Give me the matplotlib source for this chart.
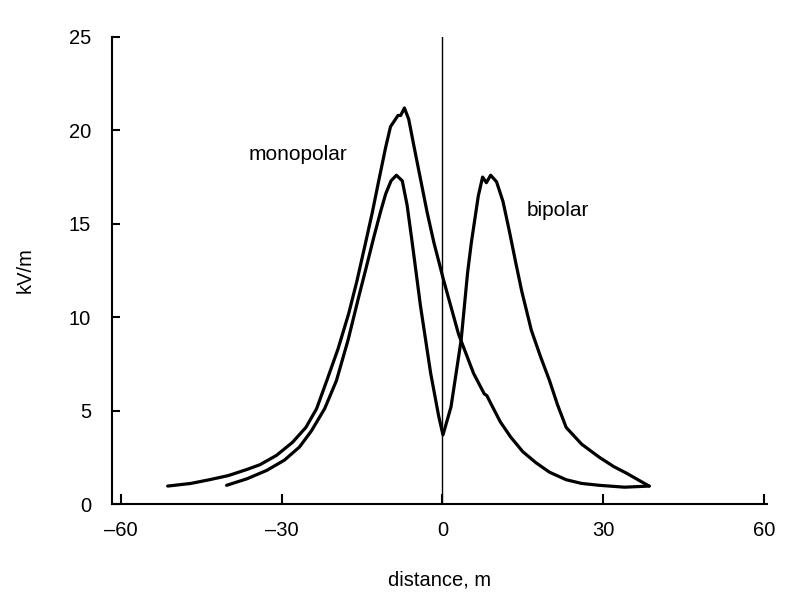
import matplotlib
matplotlib.use("Agg")
import matplotlib.pyplot as plt

plt.rcParams['font.family'] = ['Liberation Sans', 'DejaVu Sans']

# monopolar curve (distance m, kV/m)
mono_x = [-51.3, -47, -43.5, -40, -36.5, -34.1, -31, -28, -25.5, -23.5, -21.6, -19.5, -17.5,
          -16.0, -14.5, -13.1, -11.9, -10.6, -9.7, -8.3, -7.8, -7.1, -6.3, -5.35, -4.1, -2.85,
          -1.6, 0.2, 3.0, 5.8, 7.8, 8.3, 9.0, 10.8, 12.7, 15, 17.5, 20, 23.1, 26, 29.3, 34, 38.6]
mono_y = [0.96, 1.1, 1.3, 1.52, 1.85, 2.1, 2.6, 3.3, 4.1, 5.1, 6.6, 8.3, 10.2,
          11.9, 13.8, 15.6, 17.3, 19.1, 20.2, 20.8, 20.8, 21.2, 20.6, 19.2, 17.4, 15.6,
          14.0, 12.0, 9.1, 7.0, 5.9, 5.8, 5.4, 4.4, 3.6, 2.8, 2.2, 1.7, 1.3, 1.1, 1.0, 0.9, 0.96]

# bipolar curve
bi_x = [-40.3, -36.5, -32.8, -29.5, -26.7, -24.5, -22, -19.8, -17.6, -15.8, -14.2, -12.8,
        -11.6, -10.6, -9.6, -8.6, -7.5, -6.6, -5.65, -4.1, -2.2, -0.7, 0.1, 1.6, 3.5, 4.7,
        5.4, 6.7, 7.5, 8.2, 9.0, 10.1, 11.3, 12.5, 13.7, 14.8, 16.6, 18.3, 20, 21.5, 23.1,
        26, 29.3, 32, 34.3, 36.5, 38.6]
bi_y = [1.0, 1.35, 1.8, 2.35, 3.05, 3.9, 5.1, 6.6, 8.8, 10.9, 12.7, 14.3,
        15.6, 16.6, 17.3, 17.6, 17.3, 16.0, 14.0, 10.6, 7.0, 4.7, 3.7, 5.2, 8.8, 12.4,
        14.0, 16.5, 17.5, 17.2, 17.6, 17.25, 16.2, 14.6, 12.9, 11.4, 9.3, 7.9, 6.6, 5.3, 4.1,
        3.2, 2.5, 2.0, 1.66, 1.3, 0.96]

x_ticks = [-60, -30, 0, 30, 60]
y_ticks = [0, 5, 10, 15, 20, 25]

fig = plt.figure(figsize=(8.02, 5.94), dpi=100)
ax = fig.add_axes([112/802, 90/594, (767-112)/802, (504-37)/594])

ax.plot(mono_x, mono_y, color='black', lw=2.3, solid_joinstyle='round', solid_capstyle='round')
ax.plot(bi_x, bi_y, color='black', lw=2.3, solid_joinstyle='round', solid_capstyle='round')
ax.plot([0, 0], [0, 25], color='black', lw=1.0)

ax.set_xlim(-61.7, 60.6)
ax.set_ylim(0, 25)
ax.set_xticks(x_ticks)
ax.set_yticks(y_ticks)
ax.set_xticklabels(['\u201360', '\u201330', '0', '30', '60'])
for s in ['top', 'right']:
    ax.spines[s].set_visible(False)
for s in ['left', 'bottom']:
    ax.spines[s].set_linewidth(1.5)
ax.tick_params(axis='both', direction='in', width=1.5, labelsize=14.5)
ax.tick_params(axis='x', length=7, pad=12)
ax.tick_params(axis='y', length=6, pad=15)

ax.set_xlabel('distance, m', fontsize=14.5, labelpad=22)
ax.set_ylabel('kV/m', fontsize=14.5, labelpad=25)

ax.text(-27.0, 18.7, 'monopolar', fontsize=15, ha='center', va='center')
ax.text(21.5, 15.7, 'bipolar', fontsize=15, ha='center', va='center')

fig.savefig('out.png', dpi=100)
